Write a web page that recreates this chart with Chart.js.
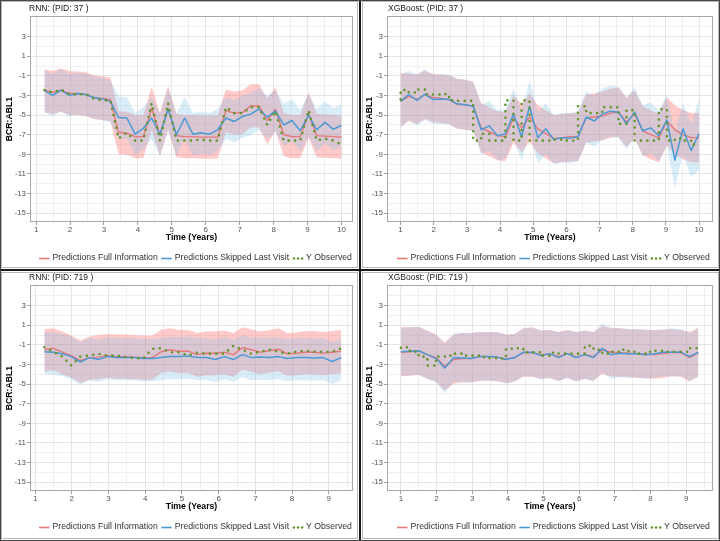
<!DOCTYPE html>
<html><head><meta charset="utf-8">
<script src="https://cdn.jsdelivr.net/npm/chart.js@4.4.1/dist/chart.umd.min.js"></script>
<style>
html,body{margin:0;padding:0;background:#fff;}
#wrap{position:relative;width:720px;height:541px;overflow:hidden;background:#fff;}
canvas{position:absolute;}
.frame{position:absolute;border:1px solid #b8b8b8;box-sizing:border-box;pointer-events:none;}
.sep{position:absolute;background:#1a1a1a;pointer-events:none;}
</style></head>
<body><div id="wrap">
<canvas id="c1" width="360" height="270" style="left:0;top:0"></canvas>
<canvas id="c2" width="360" height="270" style="left:360px;top:0"></canvas>
<canvas id="c3" width="360" height="271" style="left:0;top:270px"></canvas>
<canvas id="c4" width="360" height="271" style="left:360px;top:270px"></canvas>
<div class="frame" style="left:1px;top:1px;width:357px;height:267px"></div>
<div class="frame" style="left:362px;top:1px;width:357px;height:267px"></div>
<div class="frame" style="left:1px;top:272px;width:357px;height:267px"></div>
<div class="frame" style="left:362px;top:272px;width:357px;height:267px"></div>
<div class="sep" style="left:359px;top:0;width:2px;height:541px"></div>
<div class="sep" style="left:0;top:269px;width:720px;height:2px"></div>
<div class="frame" style="left:0;top:0;width:720px;height:541px;border-color:#444"></div>
</div>
<script>
// ---------- labels ----------
const LEGEND_LABELS = ['Predictions Full Information', 'Predictions Skipped Last Visit', 'Y Observed'];
const X_TITLE = 'Time (Years)';
const Y_TITLE = 'BCR:ABL1';
const Y_BREAKS = [-15, -13, -11, -9, -7, -5, -3, -1, 1, 3];
const Y_MINOR = [-14, -12, -10, -8, -6, -4, -2, 0, 2, 4];
const X_BREAKS_37 = [1, 2, 3, 4, 5, 6, 7, 8, 9, 10];
const X_BREAKS_719 = [1, 2, 3, 4, 5, 6, 7, 8, 9];

// ---------- PID 37 ----------
const T37_RNN = [1.245,1.49,1.73,1.975,2.22,2.46,2.70,2.945,3.19,3.43,3.675,3.92,4.16,4.405,4.65,4.89,5.135,5.38,5.62,5.865,6.11,6.35,6.595,6.84,7.08,7.325,7.57,7.81,8.055,8.30,8.54,8.785,9.03,9.27,9.515,9.76,10.0];
const RNN37_FULL = [-2.45,-2.7,-2.45,-2.8,-2.8,-2.9,-3.2,-3.3,-3.4,-6.75,-6.85,-7.2,-7.2,-4.3,-7.0,-4.3,-7.1,-7.2,-7.2,-7.25,-7.25,-7.25,-4.55,-4.8,-4.75,-4.05,-4.05,-5.55,-4.4,-7.0,-7.2,-7.2,-4.9,-7.1,-7.15,-7.2,-7.25];
const RNN37_FULL_HI = [-0.35,-0.5,-0.25,-0.5,-0.55,-0.6,-0.95,-1.05,-1.15,-4.6,-4.65,-5.0,-5.0,-2.1,-4.8,-2.0,-4.9,-5.0,-5.0,-5.05,-5.05,-5.05,-2.4,-2.6,-2.5,-1.85,-1.85,-3.3,-2.2,-4.8,-5.0,-5.0,-2.7,-4.9,-4.95,-5.0,-5.05];
const RNN37_FULL_LO = [-4.7,-4.9,-4.65,-5.0,-5.0,-5.1,-5.4,-5.5,-5.6,-9.0,-9.05,-9.4,-9.4,-6.5,-9.2,-6.5,-9.3,-9.4,-9.4,-9.45,-9.45,-9.45,-6.75,-7.0,-6.95,-6.25,-6.25,-8.0,-6.6,-9.2,-9.4,-9.4,-7.3,-9.3,-9.35,-9.4,-9.45];
const RNN37_SKIP = [-2.5,-3.0,-2.45,-3.0,-2.8,-2.9,-3.2,-3.35,-3.6,-5.25,-5.3,-6.95,-6.35,-5.3,-7.0,-4.4,-7.0,-5.3,-6.95,-6.8,-6.95,-6.5,-5.3,-5.65,-5.15,-4.9,-4.4,-5.2,-4.6,-6.0,-5.55,-6.6,-5.0,-6.5,-5.75,-6.45,-6.05];
const RNN37_SKIP_HI = [-0.35,-0.85,-0.3,-0.85,-0.65,-0.75,-1.05,-1.2,-1.45,-3.1,-3.15,-4.8,-4.2,-3.15,-4.85,-2.25,-4.85,-3.15,-4.8,-4.65,-4.8,-4.35,-3.15,-3.5,-3.0,-2.75,-2.25,-3.05,-2.45,-3.85,-3.4,-4.45,-2.85,-4.35,-3.6,-4.3,-3.9];
const RNN37_SKIP_LO = [-4.65,-5.15,-4.6,-5.15,-4.95,-5.05,-5.35,-5.5,-5.75,-7.4,-7.45,-9.1,-8.5,-7.45,-9.15,-6.55,-9.15,-7.45,-9.1,-8.95,-9.1,-8.65,-7.45,-7.8,-7.3,-7.05,-6.55,-7.35,-6.75,-8.15,-7.7,-8.75,-7.15,-8.65,-7.9,-8.6,-8.2];
const RNN37_OBS = [-2.45,-2.7,-2.4,-2.85,-2.9,-2.85,-3.35,-3.5,-3.5,-7.4,-6.8,-7.6,-7.6,-3.8,-7.6,-3.8,-7.6,-7.6,-7.6,-7.5,-7.6,-7.6,-4.2,-4.8,-4.8,-4.2,-4.2,-6.0,-4.6,-7.6,-7.6,-7.6,-4.5,-7.6,-7.4,-7.6,-8.0];

const T37_XGB = [1.0,1.245,1.49,1.73,1.975,2.22,2.46,2.70,2.945,3.19,3.43,3.675,3.92,4.16,4.405,4.65,4.89,5.135,5.38,5.62,5.865,6.11,6.35,6.595,6.84,7.08,7.325,7.57,7.81,8.055,8.30,8.54,8.785,9.03,9.27,9.515,9.76,10.0];
const XGB37_FULL = [-3.6,-3.1,-3.4,-2.9,-3.2,-3.3,-3.4,-3.9,-3.95,-4.1,-6.3,-6.7,-7.1,-7.2,-5.3,-6.3,-5.2,-6.4,-6.9,-7.4,-7.3,-7.2,-7.2,-5.3,-5.2,-5.1,-4.8,-4.7,-5.7,-4.9,-6.6,-7.0,-7.3,-5.6,-6.5,-7.0,-7.3,-7.3];
const XGB37_FULL_HI = [-0.7,-0.75,-0.85,-0.5,-0.8,-0.9,-0.95,-1.3,-1.4,-1.6,-3.8,-4.2,-4.6,-4.7,-3.0,-3.9,-2.8,-4.0,-4.5,-5.0,-4.9,-4.8,-4.8,-2.9,-2.8,-2.6,-2.3,-2.2,-3.2,-2.5,-4.1,-4.5,-4.9,-3.2,-4.0,-4.5,-4.8,-4.8];
const XGB37_FULL_LO = [-6.2,-5.6,-5.9,-5.4,-5.7,-5.8,-5.9,-6.4,-6.5,-6.6,-8.8,-9.2,-9.6,-9.7,-7.8,-8.8,-7.7,-8.9,-9.4,-9.9,-9.8,-9.7,-9.7,-7.8,-7.7,-7.6,-7.3,-7.2,-8.2,-7.4,-9.1,-9.5,-9.8,-8.1,-9.0,-9.5,-9.8,-9.8];
const XGB37_SKIP = [-3.6,-2.9,-3.5,-2.9,-3.4,-3.35,-3.4,-3.85,-3.95,-4.1,-6.5,-6.1,-7.1,-6.9,-4.9,-7.2,-4.1,-7.3,-6.4,-7.5,-7.3,-7.35,-7.2,-5.2,-5.6,-4.9,-4.6,-4.7,-5.9,-4.7,-6.6,-6.3,-7.1,-5.5,-9.6,-6.4,-8.6,-6.9];
const XGB37_SKIP_HI = [-0.8,-0.5,-0.9,-0.3,-0.9,-0.8,-0.9,-1.3,-1.4,-1.6,-3.9,-3.6,-4.5,-4.4,-2.3,-4.6,-1.5,-4.7,-3.8,-5.0,-4.8,-4.8,-4.6,-2.6,-3.0,-2.3,-2.0,-2.1,-3.3,-2.1,-4.0,-3.7,-4.5,-2.9,-6.8,-3.8,-5.9,-3.4];
const XGB37_SKIP_LO = [-6.3,-5.5,-6.1,-5.5,-5.9,-5.9,-5.9,-6.4,-6.5,-6.6,-9.0,-8.6,-9.6,-9.4,-7.4,-9.7,-6.7,-9.9,-9.0,-10.0,-9.8,-9.9,-9.7,-7.8,-8.2,-7.5,-7.2,-7.3,-8.5,-7.3,-9.2,-8.9,-9.7,-8.1,-12.4,-9.0,-11.3,-10.6];
const XGB37_OBS = [-3.4,-2.45,-2.7,-2.4,-2.85,-2.9,-2.85,-3.5,-3.55,-3.55,-7.6,-6.9,-7.6,-7.6,-3.5,-7.6,-3.5,-7.6,-7.6,-7.6,-7.5,-7.6,-7.6,-4.1,-4.8,-4.8,-4.2,-4.2,-5.9,-4.5,-7.6,-7.6,-7.6,-4.4,-7.6,-7.4,-7.6,-8.0];

// ---------- PID 719 ----------
const T719_RNN = [1.25,1.495,1.74,1.985,2.23,2.48,2.72,2.965,3.21,3.455,3.70,3.945,4.19,4.435,4.68,4.93,5.17,5.42,5.665,5.91,6.155,6.40,6.645,6.89,7.135,7.38,7.625,7.87,8.115,8.36,8.605,8.85,9.095,9.34];
const RNN719_FULL = [-1.5,-1.35,-1.75,-2.1,-2.6,-2.3,-2.25,-2.1,-2.2,-2.2,-2.25,-2.3,-2.3,-1.7,-1.5,-1.65,-1.65,-2.0,-1.85,-1.85,-1.75,-2.0,-1.3,-1.5,-1.75,-1.6,-1.45,-1.9,-1.85,-1.75,-1.75,-1.85,-1.75,-1.65];
const RNN719_FULL_HI = [0.6,0.7,0.35,-0.05,-0.55,-0.15,0.0,0.1,0.05,0.05,0.0,-0.05,-0.05,0.55,0.7,0.5,0.5,0.2,0.35,0.35,0.45,0.2,0.8,0.6,0.35,0.5,0.7,0.2,0.25,0.4,0.4,0.3,0.4,0.5];
const RNN719_FULL_LO = [-3.75,-3.6,-4.0,-4.35,-4.9,-4.55,-4.5,-4.35,-4.45,-4.45,-4.5,-4.55,-4.55,-3.85,-3.75,-3.9,-3.85,-4.25,-4.1,-4.1,-4.0,-4.25,-3.55,-3.75,-4.0,-3.85,-3.7,-4.15,-4.1,-4.0,-4.0,-4.1,-4.0,-3.9];
const RNN719_SKIP = [-1.7,-1.75,-1.9,-2.2,-2.75,-2.3,-2.5,-2.2,-2.3,-2.3,-2.3,-2.4,-2.4,-2.3,-2.2,-2.2,-2.15,-2.3,-2.3,-2.5,-2.2,-2.5,-2.0,-2.3,-2.25,-2.3,-2.2,-2.4,-2.3,-2.3,-2.35,-2.3,-2.7,-2.3];
const RNN719_SKIP_HI = [0.3,0.25,0.1,-0.2,-0.75,-0.3,-0.5,-0.2,-0.3,-0.3,-0.3,-0.4,-0.4,-0.3,-0.2,-0.2,-0.15,-0.3,-0.3,-0.5,-0.2,-0.5,0.0,-0.3,-0.25,-0.3,-0.2,-0.4,-0.3,-0.3,-0.35,-0.3,-0.7,-0.3];
const RNN719_SKIP_LO = [-4.0,-4.05,-4.2,-4.5,-5.05,-4.6,-4.8,-4.5,-4.6,-4.6,-4.6,-4.7,-4.7,-4.6,-4.5,-4.5,-4.45,-4.6,-4.6,-4.8,-4.5,-4.8,-4.3,-4.6,-4.55,-4.6,-4.5,-4.7,-4.6,-4.6,-4.65,-4.6,-5.0,-4.6];
const RNN719_OBS = [-1.25,-1.7,-2.2,-3.1,-2.2,-2.1,-1.9,-2.1,-2.1,-2.25,-2.35,-2.4,-1.4,-1.35,-1.75,-1.75,-2.1,-1.8,-1.9,-1.9,-1.9,-1.1,-1.5,-1.9,-1.7,-1.5,-1.7,-1.9,-1.7,-1.6,-1.7,-1.7,-1.7,-1.35];

const T719_XGB = [1.0,1.25,1.495,1.74,1.985,2.23,2.48,2.72,2.965,3.21,3.455,3.70,3.945,4.19,4.435,4.68,4.93,5.17,5.42,5.665,5.91,6.155,6.40,6.645,6.89,7.135,7.38,7.625,7.87,8.115,8.36,8.605,8.85,9.095,9.34];
const XGB719_FULL = [-1.75,-1.7,-1.6,-2.0,-2.3,-3.2,-2.5,-2.4,-2.4,-2.2,-2.2,-2.25,-2.45,-2.3,-1.8,-1.8,-2.0,-1.95,-2.2,-1.9,-2.25,-2.0,-2.2,-1.5,-1.75,-1.8,-1.85,-1.9,-1.95,-2.0,-1.9,-1.75,-1.8,-2.3,-1.8];
const XGB719_FULL_HI = [0.8,0.8,0.85,0.45,0.05,-0.75,0.05,0.2,0.2,0.3,0.3,0.3,0.05,0.1,0.7,0.8,0.45,0.5,0.3,0.5,0.3,0.45,0.3,0.9,0.75,0.7,0.6,0.6,0.55,0.5,0.55,0.6,0.5,0.3,0.75];
const XGB719_FULL_LO = [-4.2,-4.15,-4.05,-4.45,-4.75,-5.65,-4.95,-4.85,-4.85,-4.65,-4.65,-4.7,-4.9,-4.75,-4.25,-4.25,-4.45,-4.4,-4.65,-4.35,-4.7,-4.45,-4.65,-3.95,-4.2,-4.25,-4.3,-4.35,-4.4,-4.45,-4.35,-4.2,-4.25,-4.75,-4.25];
const XGB719_SKIP = [-1.7,-1.65,-1.6,-2.0,-2.4,-3.35,-2.3,-2.35,-2.4,-2.2,-2.2,-2.25,-2.5,-2.3,-1.75,-1.75,-2.1,-1.9,-2.3,-1.9,-2.3,-2.0,-2.3,-1.35,-2.0,-1.85,-1.9,-1.9,-2.0,-1.9,-1.75,-1.75,-1.75,-2.2,-1.75];
const XGB719_SKIP_HI = [0.75,0.8,0.85,0.4,0.0,-0.9,0.15,0.2,0.2,0.3,0.3,0.3,0.05,0.1,0.7,0.75,0.45,0.5,0.25,0.5,0.3,0.45,0.25,1.15,0.7,0.7,0.65,0.6,0.55,0.5,0.6,0.7,0.6,0.2,0.75];
const XGB719_SKIP_LO = [-4.15,-4.1,-4.05,-4.45,-4.85,-5.9,-4.75,-4.8,-4.85,-4.65,-4.65,-4.7,-4.95,-4.75,-4.2,-4.2,-4.55,-4.35,-4.75,-4.35,-4.75,-4.45,-4.75,-3.8,-4.45,-4.3,-4.35,-4.35,-4.45,-4.35,-4.2,-4.2,-4.2,-4.65,-4.2];
const XGB719_OBS = [-1.3,-1.25,-1.7,-2.2,-3.1,-2.2,-2.1,-1.9,-2.1,-2.1,-2.25,-2.35,-2.4,-1.4,-1.35,-1.75,-1.75,-2.1,-1.8,-1.9,-1.9,-1.9,-1.1,-1.5,-1.9,-1.7,-1.5,-1.7,-1.9,-1.7,-1.6,-1.7,-1.7,-1.7,-1.35];

// ---------- style ----------
const FONT = '"Liberation Sans", Arial, Helvetica, sans-serif';
const RED_LINE = '#E6797B';
const BLUE_LINE = '#4A9AD6';
const GREEN = '#62962A';
const RED_FILL = 'rgba(255,95,95,0.33)';
const BLUE_FILL = 'rgba(120,190,235,0.28)';
const GRID_MAJOR = '#e4e4e4';
const GRID_MINOR = '#f0f0f0';
const TICK_MARK = '#a0a0a0';

const pts = (t, v) => t.map((x, i) => ({x: x, y: v[i]}));

const decor = {
  id: 'decor',
  afterDraw(chart, args, o) {
    const ctx = chart.ctx, a = chart.chartArea;
    ctx.save();
    ctx.strokeStyle = '#a8a8a8';
    ctx.lineWidth = 1;
    ctx.strokeRect(Math.round(a.left) + 0.5, Math.round(a.top) + 0.5,
                   Math.round(a.right - a.left) - 1, Math.round(a.bottom - a.top) - 1);
    ctx.fillStyle = '#1a1a1a';
    ctx.font = '8.5px ' + FONT;
    ctx.textBaseline = 'middle';
    ctx.textAlign = 'left';
    ctx.fillText(o.title, o.titleX, o.titleY);
    // legend
    ctx.font = '8.7px ' + FONT;
    ctx.fillStyle = '#333';
    let x = o.legendX;
    const y = o.legendY;
    const kinds = [['line', RED_LINE], ['line', BLUE_LINE], ['dots', GREEN]];
    LEGEND_LABELS.forEach((lab, i) => {
      const [k, c] = kinds[i];
      if (k === 'line') {
        ctx.strokeStyle = c; ctx.lineWidth = 1.6;
        ctx.beginPath(); ctx.moveTo(x, y + 0.5); ctx.lineTo(x + 10.5, y + 0.5); ctx.stroke();
      } else {
        ctx.fillStyle = c;
        [1.4, 5.5, 9.6].forEach(d => { ctx.beginPath(); ctx.arc(x + d, y + 0.5, 1.25, 0, Math.PI * 2); ctx.fill(); });
        ctx.fillStyle = '#333';
      }
      x += 13.5;
      ctx.fillText(lab, x, y);
      x += ctx.measureText(lab).width + 3.5;
    });
    ctx.restore();
  }
};

function makeChart(id, p) {
  const xTicks = [];
  p.xBreaks.forEach(v => { if (v - 0.5 >= p.xmin) xTicks.push(v - 0.5); xTicks.push(v); });
  const last = p.xBreaks[p.xBreaks.length - 1];
  if (last + 0.5 <= p.xmax) xTicks.push(last + 0.5);
  const yTicks = Y_BREAKS.concat(Y_MINOR).sort((a, b) => a - b);
  const lineBase = {pointRadius: 0, tension: 0, fill: false, borderJoinStyle: 'round'};
  const bandBase = {pointRadius: 0, tension: 0, borderColor: 'transparent', borderWidth: 0};
  return new Chart(document.getElementById(id), {
    type: 'line',
    data: {
      datasets: [
        Object.assign({}, lineBase, {label: LEGEND_LABELS[2], data: pts(p.t, p.obs), borderColor: GREEN,
          borderWidth: 2.6, borderDash: [0, 6.5], borderCapStyle: 'round', stepped: p.stepped}),
        Object.assign({}, lineBase, {label: LEGEND_LABELS[1], data: pts(p.t, p.skip), borderColor: BLUE_LINE, borderWidth: 1.5}),
        Object.assign({}, lineBase, {label: LEGEND_LABELS[0], data: pts(p.t, p.full), borderColor: RED_LINE, borderWidth: 1.4}),
        Object.assign({}, bandBase, {label: 'skipHi', data: pts(p.t, p.skipHi), fill: '+1', backgroundColor: BLUE_FILL}),
        Object.assign({}, bandBase, {label: 'skipLo', data: pts(p.t, p.skipLo), fill: false}),
        Object.assign({}, bandBase, {label: 'fullHi', data: pts(p.t, p.fullHi), fill: '+1', backgroundColor: RED_FILL}),
        Object.assign({}, bandBase, {label: 'fullLo', data: pts(p.t, p.fullLo), fill: false})
      ]
    },
    options: {
      responsive: false,
      animation: false,
      events: [],
      layout: {padding: {left: 0, top: p.top, right: p.right, bottom: p.bottom}},
      plugins: {
        legend: {display: false},
        tooltip: {enabled: false},
        decor: {title: p.title, titleX: p.titleX, titleY: p.titleY, legendX: p.legendX, legendY: p.legendY}
      },
      scales: {
        x: {
          type: 'linear', min: p.xmin, max: p.xmax,
          afterBuildTicks: ax => { ax.ticks = xTicks.map(v => ({value: v})); },
          afterFit: ax => { ax.height = 22; },
          border: {display: false},
          grid: {
            color: c => Number.isInteger(c.tick && c.tick.value) ? GRID_MAJOR : GRID_MINOR,
            tickColor: c => Number.isInteger(c.tick && c.tick.value) ? TICK_MARK : 'rgba(0,0,0,0)',
            tickLength: 3, lineWidth: 1
          },
          ticks: {
            autoSkip: false, maxRotation: 0, padding: 0, color: '#555',
            font: {size: 8, family: FONT},
            callback: v => Number.isInteger(v) ? String(v) : ''
          },
          title: {display: true, text: X_TITLE, color: '#000',
            font: {size: 8.7, weight: 'bold', family: FONT}, padding: {top: 0, bottom: 1}}
        },
        y: {
          type: 'linear', min: -15.9, max: 5.1,
          afterBuildTicks: ax => { ax.ticks = yTicks.map(v => ({value: v})); },
          afterFit: ax => { ax.width = p.left; },
          border: {display: false},
          grid: {
            color: c => (c.tick && Y_BREAKS.includes(c.tick.value)) ? GRID_MAJOR : GRID_MINOR,
            tickColor: c => (c.tick && Y_BREAKS.includes(c.tick.value)) ? TICK_MARK : 'rgba(0,0,0,0)',
            tickLength: 3, lineWidth: 1
          },
          ticks: {
            autoSkip: false, padding: 1, color: '#555',
            font: {size: 8, family: FONT},
            callback: v => Y_BREAKS.includes(v) ? String(v) : ''
          },
          title: {display: true, text: Y_TITLE, color: '#000',
            font: {size: 8.7, weight: 'bold', family: FONT}, padding: {top: 4, bottom: 0}}
        }
      }
    },
    plugins: [decor]
  });
}

makeChart('c1', {title: 'RNN: (PID: 37 )', t: T37_RNN, full: RNN37_FULL, fullHi: RNN37_FULL_HI, fullLo: RNN37_FULL_LO,
  skip: RNN37_SKIP, skipHi: RNN37_SKIP_HI, skipLo: RNN37_SKIP_LO, obs: RNN37_OBS, stepped: false,
  xBreaks: X_BREAKS_37, xmin: 0.82, xmax: 10.34, left: 30, right: 7, top: 16, bottom: 26,
  titleX: 29, titleY: 9, legendX: 39, legendY: 258});
makeChart('c2', {title: 'XGBoost: (PID: 37 )', t: T37_XGB, full: XGB37_FULL, fullHi: XGB37_FULL_HI, fullLo: XGB37_FULL_LO,
  skip: XGB37_SKIP, skipHi: XGB37_SKIP_HI, skipLo: XGB37_SKIP_LO, obs: XGB37_OBS, stepped: 'after',
  xBreaks: X_BREAKS_37, xmin: 0.59, xmax: 10.42, left: 27, right: 7, top: 16, bottom: 26,
  titleX: 28, titleY: 9, legendX: 37, legendY: 258});
makeChart('c3', {title: 'RNN: (PID: 719 )', t: T719_RNN, full: RNN719_FULL, fullHi: RNN719_FULL_HI, fullLo: RNN719_FULL_LO,
  skip: RNN719_SKIP, skipHi: RNN719_SKIP_HI, skipLo: RNN719_SKIP_LO, obs: RNN719_OBS, stepped: false,
  xBreaks: X_BREAKS_719, xmin: 0.86, xmax: 9.66, left: 30, right: 7, top: 15, bottom: 28,
  titleX: 29, titleY: 7.5, legendX: 39, legendY: 257});
makeChart('c4', {title: 'XGBoost: (PID: 719 )', t: T719_XGB, full: XGB719_FULL, fullHi: XGB719_FULL_HI, fullLo: XGB719_FULL_LO,
  skip: XGB719_SKIP, skipHi: XGB719_SKIP_HI, skipLo: XGB719_SKIP_LO, obs: XGB719_OBS, stepped: 'after',
  xBreaks: X_BREAKS_719, xmin: 0.61, xmax: 9.75, left: 27, right: 7, top: 15, bottom: 28,
  titleX: 28, titleY: 7.5, legendX: 37, legendY: 257});
</script>
</body></html>
